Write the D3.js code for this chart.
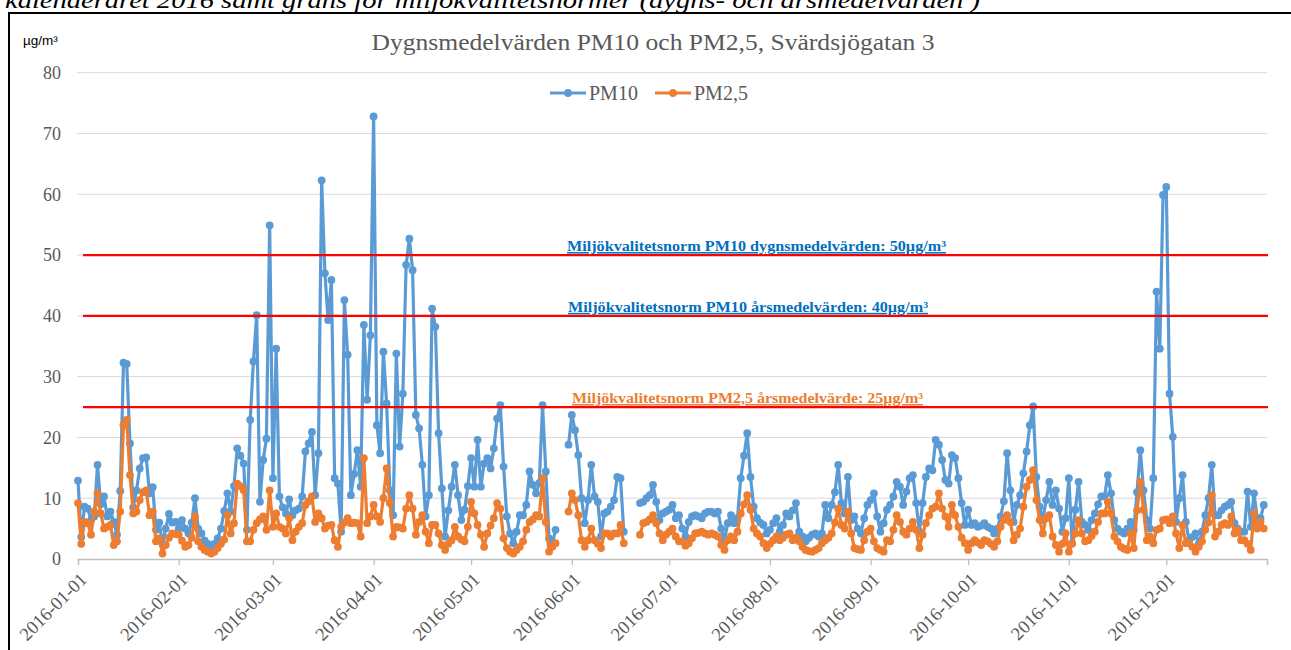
<!DOCTYPE html>
<html>
<head>
<meta charset="utf-8">
<script src="https://cdn.jsdelivr.net/npm/d3@7/dist/d3.min.js"></script>
<style>
  body { margin: 0; background: #fff; }
  svg { display: block; }
</style>
</head>
<body>
<div id="chart"></div>
<script>
// month start dates (x tick labels)
var monthLabels = ["2016-01-01", "2016-02-01", "2016-03-01", "2016-04-01", "2016-05-01", "2016-06-01",
  "2016-07-01", "2016-08-01", "2016-09-01", "2016-10-01", "2016-11-01", "2016-12-01"];

// daily PM10, one row per month (null = no measurement)
var pm10 = [
  [12.9, 3.6, 8.6, 8.3, 6.4, 7.0, 15.5, 9.0, 10.3, 7.0, 7.8, 6.1, 4.0, 11.2, 32.3, 32.1, 19.0, 8.5, 11.3, 14.9, 16.6, 16.7, 10.8, 11.8, 4.8, 6.0, 2.5, 5.0, 7.4, 6.0, 6.1],
  [5.0, 6.4, 5.0, 4.2, 6.0, 10.0, 5.0, 4.2, 3.0, 2.5, 1.8, 2.5, 3.4, 5.0, 7.9, 10.8, 7.8, 12.0, 18.2, 17.0, 15.7, 4.8, 22.9, 32.5, 40.1, 9.4, 16.3, 19.8, 54.9],
  [13.3, 34.6, 10.3, 8.5, 7.5, 9.8, 7.2, 8.0, 8.3, 10.3, 17.7, 19.0, 20.9, 10.5, 17.4, 62.3, 47.0, 39.3, 45.9, 13.3, 12.4, 4.5, 42.6, 33.6, 10.5, 14.0, 17.9, 11.9, 38.5, 26.2, 36.8],
  [72.8, 22.0, 17.4, 34.1, 25.6, 11.3, 7.2, 33.8, 18.5, 27.2, 48.4, 52.7, 47.5, 23.7, 21.5, 15.5, 7.0, 10.5, 41.2, 38.2, 20.7, 11.6, 3.7, 8.0, 11.9, 15.5, 10.5, 6.4, 8.1, 12.0],
  [16.6, 11.9, 19.6, 11.9, 15.7, 16.6, 14.9, 18.2, 23.1, 25.3, 15.2, 7.0, 4.2, 2.6, 4.5, 7.2, 7.2, 8.9, 14.4, 12.2, 10.8, 12.5, 25.3, 14.4, 3.4, 2.5, 4.8, null, null, null, 18.8],
  [23.7, 21.2, 17.1, 10.0, 5.9, 9.7, 15.5, 10.3, 9.4, 3.7, 7.5, 7.8, 8.6, 9.7, 13.5, 13.3, 4.5, null, null, null, null, 9.2, 9.4, 10.0, 10.5, 12.2, 9.4, 6.4, 7.5, 7.8],
  [8.1, 8.9, 6.7, 7.2, 5.0, 3.7, 6.1, 7.0, 7.2, 7.0, 6.7, 7.5, 7.8, 7.8, 7.5, 7.8, 5.0, 3.1, 5.9, 7.2, 5.9, 6.7, 13.3, 17.0, 20.7, 13.5, 8.6, 6.7, 6.0, 5.6, 4.2],
  [4.8, 5.9, 6.7, 4.5, 5.6, 7.5, 7.0, 8.0, 9.2, 4.5, 3.7, 2.9, 3.5, 4.0, 4.2, 3.7, 4.2, 8.9, 6.7, 8.9, 11.0, 15.5, 9.2, 7.5, 13.5, 6.4, 7.0, 5.0, 4.2, 6.7, 8.9],
  [9.7, 10.8, 7.0, 4.5, 5.9, 8.1, 8.9, 10.3, 12.7, 11.9, 8.9, 11.1, 13.3, 13.8, 9.2, 4.5, 9.2, 13.5, 14.9, 14.6, 19.6, 18.8, 16.3, 13.0, 12.4, 17.1, 16.6, 13.3, 9.2, 5.6],
  [8.1, 5.6, 5.9, 5.3, 5.5, 5.9, 5.3, 5.0, 4.2, 5.0, 7.0, 9.5, 17.4, 11.3, 6.1, 8.9, 10.5, 14.1, 17.7, 22.0, 25.1, 13.5, 8.6, 6.4, 9.7, 12.7, 8.9, 11.3, 8.3, 4.5, 6.7],
  [13.3, 2.6, 8.1, 12.7, 6.1, 5.6, 4.8, 6.4, 7.5, 9.0, 10.3, 10.3, 13.8, 10.8, 6.4, 5.0, 4.5, 4.2, 5.0, 6.1, 4.8, 11.0, 17.9, 11.3, 6.4, 5.0, 13.3, 44.0, 34.6, 59.9],
  [61.2, 27.2, 20.1, 6.1, 10.0, 13.8, 6.1, 3.1, 3.6, 4.2, 2.5, 4.5, 7.2, 10.0, 15.5, 7.2, 7.2, 8.0, 8.6, 8.9, 9.4, 5.9, 5.0, 4.5, 4.5, 11.1, 5.3, 10.8, 6.7, 6.7, 8.9]
];

// daily PM2,5, one row per month
var pm25 = [
  [9.2, 2.5, 6.1, 5.9, 4.0, 7.8, 10.8, 7.5, 5.0, 5.3, 5.6, 2.3, 2.9, 7.8, 22.0, 22.9, 13.8, 7.5, 7.8, 9.7, 11.0, 11.3, 7.2, 7.8, 2.9, 3.4, 0.9, 2.3, 3.5, 4.2, 4.1],
  [4.0, 3.0, 2.0, 2.3, 3.5, 7.0, 2.9, 2.0, 1.5, 1.2, 0.9, 1.2, 1.8, 2.5, 3.2, 7.2, 4.2, 5.9, 12.4, 12.0, 11.3, 2.9, 2.9, 4.8, 5.9, 6.5, 7.0, 4.8, 11.3],
  [5.3, 7.5, 5.3, 5.0, 4.2, 6.7, 3.1, 4.5, 5.3, 5.9, 8.9, 9.5, 10.3, 6.1, 7.5, 6.7, 5.0, 5.5, 5.6, 3.1, 2.0, 5.3, 6.0, 6.7, 5.9, 6.0, 5.9, 3.7, 16.6, 5.9, 7.0],
  [8.9, 7.0, 6.1, 10.0, 14.9, 9.2, 3.7, 5.3, 5.2, 5.0, 8.3, 10.5, 8.3, 4.0, 6.1, 7.2, 4.5, 2.6, 5.6, 5.6, 4.2, 2.3, 1.5, 2.5, 3.1, 5.3, 3.7, 3.2, 2.9, 5.3],
  [9.4, 7.5, 5.6, 4.0, 2.0, 4.2, 5.5, 6.7, 9.2, 8.3, 3.4, 1.8, 1.2, 0.9, 1.5, 2.0, 2.9, 4.8, 6.1, 6.5, 7.2, 7.0, 13.3, 6.1, 1.2, 2.0, 2.6, null, null, null, 7.8],
  [10.8, 9.7, 7.2, 3.1, 2.0, 3.1, 5.0, 3.1, 2.5, 1.8, 4.2, 4.2, 3.7, 4.2, 4.2, 5.6, 2.6, null, null, null, null, 4.0, 5.9, 6.1, 6.5, 7.2, 5.9, 4.2, 3.1, 4.0],
  [4.5, 5.0, 3.7, 2.9, 2.9, 2.2, 2.6, 3.4, 4.2, 4.3, 4.5, 4.2, 4.0, 4.2, 4.0, 3.7, 2.3, 1.5, 3.1, 3.7, 3.1, 4.5, 7.5, 9.0, 10.5, 8.1, 5.0, 4.2, 3.7, 2.6, 1.8],
  [2.5, 3.1, 3.7, 3.1, 3.5, 4.0, 4.2, 3.1, 3.5, 2.9, 2.0, 1.5, 1.3, 1.2, 1.5, 1.8, 2.6, 3.1, 3.5, 4.2, 6.0, 8.3, 5.6, 5.0, 7.8, 4.2, 1.8, 1.6, 1.5, 3.1, 4.5],
  [5.0, 2.9, 1.8, 1.5, 1.2, 3.1, 2.9, 4.8, 7.2, 6.1, 4.5, 4.0, 5.0, 6.1, 4.8, 1.8, 4.0, 5.9, 7.2, 8.3, 8.6, 10.8, 8.3, 7.0, 5.3, 8.9, 7.2, 5.3, 3.5, 2.6],
  [1.5, 2.6, 3.1, 2.7, 2.3, 3.1, 2.9, 2.5, 2.0, 2.9, 5.3, 6.4, 7.2, 6.1, 3.1, 4.0, 5.0, 8.6, 11.9, 13.0, 14.6, 9.7, 6.4, 4.2, 6.7, 7.2, 3.7, 2.3, 1.2, 2.5, 4.2],
  [1.2, 2.5, 4.2, 6.4, 4.2, 2.9, 3.1, 3.8, 4.5, 6.1, 7.5, 7.5, 9.4, 7.5, 3.7, 2.9, 2.0, 1.7, 1.5, 4.2, 1.8, 8.0, 12.7, 8.1, 3.1, 3.7, 2.6, 4.8, 5.0, 6.4],
  [6.5, 5.9, 7.0, 4.2, 1.8, 5.6, 2.6, 2.6, 2.0, 1.2, 2.0, 2.9, 4.8, 6.0, 10.5, 3.7, 4.5, 5.6, 5.9, 5.6, 7.0, 4.2, 4.8, 3.1, 3.1, 2.5, 1.5, 7.5, 5.0, 6.1, 5.0]
];

var yTicks = [0, 10, 20, 30, 40, 50, 60, 70, 80];
var limitValues = [50, 40, 25];
var limitLabels = [
  "Miljökvalitetsnorm PM10 dygnsmedelvärden: 50µg/m³",
  "Miljökvalitetsnorm PM10 årsmedelvärden: 40µg/m³",
  "Miljökvalitetsnorm PM2,5 årsmedelvärde: 25µg/m³"
];
var limitColors = ["#0070c0", "#0070c0", "#ed7d31"];
var seriesNames = ["PM10", "PM2,5"];
var seriesColors = ["#5b9bd5", "#ed7d31"];

var W = 1291, H = 650;
var serif = "'Liberation Serif', 'Times New Roman', serif";
var gray = "#595959";

var parse = d3.timeParse("%Y-%m-%d");

function toDaily(rows) {
  var out = [];
  rows.forEach(function(row, m) {
    row.forEach(function(v, i) {
      out.push({ date: new Date(2016, m, i + 1), value: v });
    });
  });
  return out;
}

var series = [toDaily(pm10), toDaily(pm25)];

var svg = d3.select("#chart").append("svg")
  .attr("width", W)
  .attr("height", H);

svg.append("rect").attr("width", W).attr("height", H).attr("fill", "#fff");

// caption from the report, cut off at the top as in the source
svg.append("text")
  .attr("x", 5)
  .attr("y", 8)
  .attr("font-family", serif)
  .attr("font-style", "italic")
  .attr("font-size", 23)
  .attr("textLength", 975)
  .attr("lengthAdjust", "spacingAndGlyphs")
  .attr("fill", "#000")
  .text("kalenderåret 2016 samt gräns för miljökvalitetsnormer (dygns- och årsmedelvärden )");

// frame of the chart object
svg.append("path")
  .attr("d", "M9,652V13H1293")
  .attr("fill", "none")
  .attr("stroke", "#000")
  .attr("stroke-width", 2);

var x = d3.scaleTime()
  .domain([new Date(2016, 0, 1), new Date(2017, 0, 1)])
  .range([78, 1267]);

var y = d3.scaleLinear()
  .domain([0, 80])
  .range([559, 72.7]);

// gridlines
svg.append("g")
  .selectAll("line")
  .data(yTicks.filter(function(d) { return d > 0; }))
  .enter().append("line")
  .attr("x1", 77).attr("x2", 1267)
  .attr("y1", function(d) { return y(d); })
  .attr("y2", function(d) { return y(d); })
  .attr("stroke", "#d9d9d9")
  .attr("stroke-width", 1);

// y axis labels
svg.append("g")
  .selectAll("text")
  .data(yTicks)
  .enter().append("text")
  .attr("x", 61)
  .attr("y", function(d) { return y(d); })
  .attr("dy", "0.35em")
  .attr("text-anchor", "end")
  .attr("font-family", serif)
  .attr("font-size", 18)
  .attr("fill", gray)
  .text(function(d) { return d; });

svg.append("text")
  .attr("x", 23)
  .attr("y", 45)
  .attr("font-family", "'Liberation Sans Narrow', 'Liberation Sans', Arial, sans-serif")
  .attr("font-size", 13.5)
  .attr("fill", "#000")
  .text("µg/m³");

// x axis
var monthDates = monthLabels.map(parse);
var xAxis = d3.axisBottom(x)
  .tickValues(monthDates.concat([new Date(2017, 0, 1)]))
  .tickSize(6)
  .tickFormat(function(d) { return d.getFullYear() === 2017 ? "" : d3.timeFormat("%Y-%m-%d")(d); });

var gx = svg.append("g")
  .attr("transform", "translate(0,559)")
  .call(xAxis);

gx.select(".domain").attr("stroke", "#bfbfbf").attr("stroke-width", 1.3);
gx.selectAll(".tick line").attr("stroke", "#bfbfbf").attr("stroke-width", 1.3);
gx.selectAll(".tick text")
  .attr("font-family", serif)
  .attr("font-size", 18.5)
  .attr("fill", gray)
  .attr("text-anchor", "end")
  .attr("x", 0)
  .attr("y", 0)
  .attr("dy", "0.35em")
  .attr("transform", "translate(5,17) rotate(-45)");

// series lines + markers
var line = d3.line()
  .defined(function(d) { return d.value !== null; })
  .x(function(d) { return x(d.date); })
  .y(function(d) { return y(d.value); });

series.forEach(function(data, i) {
  var g = svg.append("g");
  g.append("path")
    .datum(data)
    .attr("d", line)
    .attr("fill", "none")
    .attr("stroke", seriesColors[i])
    .attr("stroke-width", 3.2)
    .attr("stroke-linejoin", "round");
  g.selectAll("circle")
    .data(data.filter(function(d) { return d.value !== null; }))
    .enter().append("circle")
    .attr("cx", function(d) { return x(d.date); })
    .attr("cy", function(d) { return y(d.value); })
    .attr("r", 3.9)
    .attr("fill", seriesColors[i]);
});

// limit lines
svg.append("g")
  .selectAll("line")
  .data(limitValues)
  .enter().append("line")
  .attr("x1", 83).attr("x2", 1268)
  .attr("y1", function(d) { return y(d); })
  .attr("y2", function(d) { return y(d); })
  .attr("stroke", "#ff0000")
  .attr("stroke-width", 2.3);

var labelX = [567, 568, 572];
var labelW = [379, 360, 351];
svg.append("g")
  .selectAll("text")
  .data(limitValues)
  .enter().append("text")
  .attr("x", function(d, i) { return labelX[i]; })
  .attr("y", function(d) { return y(d) - 4; })
  .attr("font-family", serif)
  .attr("font-weight", "bold")
  .attr("font-size", 15)
  .attr("text-decoration", "underline")
  .attr("textLength", function(d, i) { return labelW[i]; })
  .attr("lengthAdjust", "spacingAndGlyphs")
  .attr("fill", function(d, i) { return limitColors[i]; })
  .text(function(d, i) { return limitLabels[i]; });

// title
svg.append("text")
  .attr("x", 653)
  .attr("y", 50)
  .attr("text-anchor", "middle")
  .attr("font-family", serif)
  .attr("font-size", 23.5)
  .attr("textLength", 563)
  .attr("lengthAdjust", "spacingAndGlyphs")
  .attr("fill", gray)
  .text("Dygnsmedelvärden PM10 och PM2,5, Svärdsjögatan 3");

// legend
var legendX = [550, 655];
var legend = svg.append("g")
  .selectAll("g")
  .data(seriesNames)
  .enter().append("g")
  .attr("transform", function(d, i) { return "translate(" + legendX[i] + ",93)"; });

legend.append("line")
  .attr("x1", 0).attr("x2", 36)
  .attr("stroke", function(d, i) { return seriesColors[i]; })
  .attr("stroke-width", 3.2);
legend.append("circle")
  .attr("cx", 18)
  .attr("r", 3.9)
  .attr("fill", function(d, i) { return seriesColors[i]; });
legend.append("text")
  .attr("x", 39)
  .attr("dy", "0.35em")
  .attr("font-family", serif)
  .attr("font-size", 20)
  .attr("fill", gray)
  .text(function(d) { return d; });
</script>
</body>
</html>
